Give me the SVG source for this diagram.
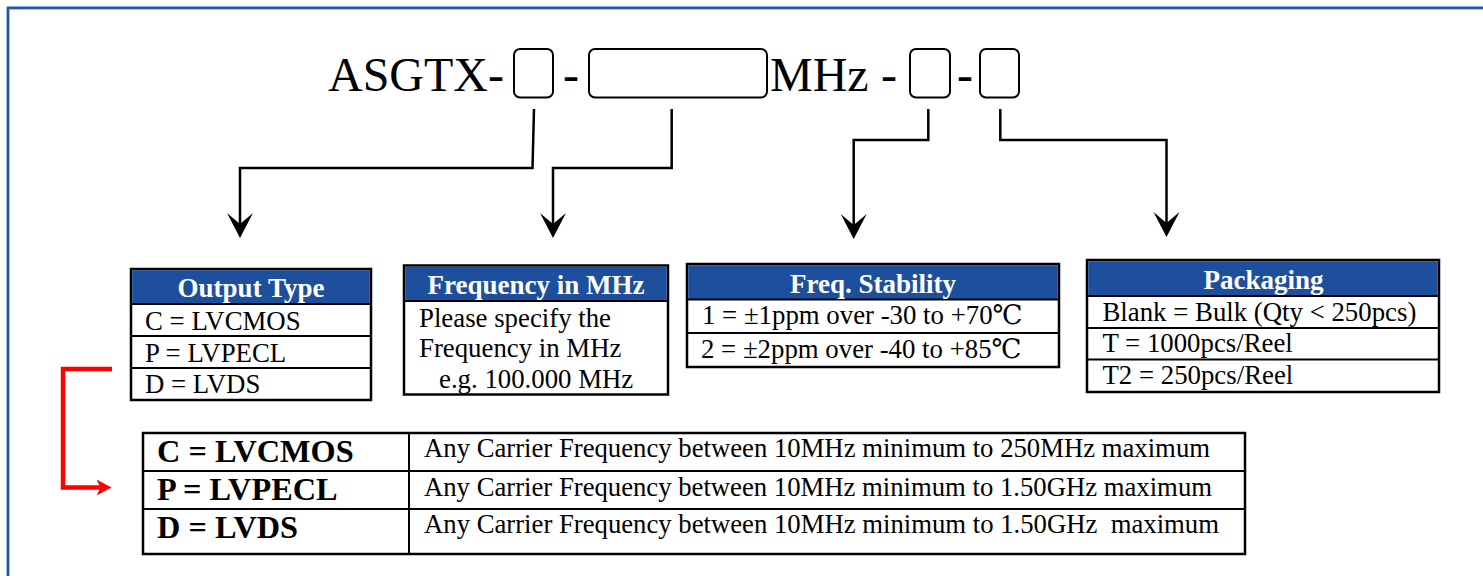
<svg xmlns="http://www.w3.org/2000/svg" width="1483" height="576" viewBox="0 0 1483 576">
<style>
.t{font-family:"Liberation Serif","DejaVu Serif","Noto Sans CJK SC",serif;fill:#000}
.title{font-size:48px}
.body{font-size:26.8px}
.hdr{font-size:27px;font-weight:bold;fill:#fff;text-anchor:middle}
.big{font-size:32.3px;font-weight:bold}
.box{fill:#fff;stroke:#000;stroke-width:2.5}
.hfill{fill:#1E4F9C}
.sep{stroke:#000;stroke-width:2}
.slot{fill:none;stroke:#000;stroke-width:2;}
.conn{fill:none;stroke:#000;stroke-width:2.5}
.red{fill:none;stroke:#FF0000;stroke-width:4.5}
</style>
<defs>
<linearGradient id="topfade" x1="0" y1="0" x2="1" y2="0">
<stop offset="0" stop-color="#6f9fd6"/>
<stop offset="1" stop-color="#e8eef6"/>
</linearGradient>
<marker id="ah" markerUnits="userSpaceOnUse" markerWidth="26" markerHeight="28" refX="11" refY="13" orient="auto" viewBox="0 0 26 26">
<path d="M25,13 L0,0 L11,13 L0,26 Z" fill="#000"/>
</marker>
<marker id="ahr" markerUnits="userSpaceOnUse" markerWidth="16" markerHeight="17" refX="4" refY="8" orient="auto" viewBox="0 0 16 16">
<path d="M15,8 L0,0 L4,8 L0,16 Z" fill="#FF0000"/>
</marker>
</defs>
<rect width="1483" height="576" fill="#fff"/>
<g id="frame">
<line x1="0" y1="0.5" x2="1483" y2="0.5" stroke="url(#topfade)" stroke-width="1"/>
<line x1="7" y1="7.8" x2="1483" y2="7.8" stroke="#1A5AAB" stroke-width="2.4"/>
<line x1="9" y1="9.5" x2="1483" y2="9.5" stroke="#9EC1E8" stroke-width="1"/>
<line x1="7.8" y1="7" x2="7.8" y2="576" stroke="#1A5AAB" stroke-width="2.4"/>
<line x1="9.5" y1="9" x2="9.5" y2="576" stroke="#9EC1E8" stroke-width="1"/>
</g>
<g id="part-number">
<text class="t title" x="328" y="91">ASGTX-</text>
<rect class="slot" x="514" y="49" width="39" height="48.5" rx="6"/>
<text class="t title" x="563" y="91">-</text>
<rect class="slot" x="589" y="49" width="178" height="48.5" rx="6"/>
<text class="t title" x="770" y="91">MHz</text>
<text class="t title" x="881" y="91">-</text>
<rect class="slot" x="910" y="49" width="40" height="48.5" rx="6"/>
<text class="t title" x="957" y="91">-</text>
<rect class="slot" x="980" y="49" width="39" height="48.5" rx="6"/>
</g>
<g id="connectors">
<polyline class="conn" points="534,109 532.5,168 240,168 240,224" marker-end="url(#ah)"/>
<polyline class="conn" points="671.7,109 671.7,168 553,168 553,224" marker-end="url(#ah)"/>
<polyline class="conn" points="928.3,109 928.3,140 853.7,140 853.7,225" marker-end="url(#ah)"/>
<polyline class="conn" points="1000.3,109 1000.3,140 1166.5,140 1166.5,223" marker-end="url(#ah)"/>
<polyline class="red" points="112,369 63,369 63,487.5 100.5,487.5" marker-end="url(#ahr)"/>
</g>
<g id="output-type">
<rect class="box" x="131" y="269" width="240" height="131"/>
<rect class="hfill" x="132.2" y="270.2" width="237.6" height="33"/>
<line class="sep" x1="131" y1="304" x2="371" y2="304"/>
<line class="sep" x1="131" y1="336" x2="371" y2="336"/>
<line class="sep" x1="131" y1="368" x2="371" y2="368"/>
<text class="t hdr" x="251" y="297">Output Type</text>
<text class="t body" x="145" y="330">C = LVCMOS</text>
<text class="t body" x="145" y="361.5">P = LVPECL</text>
<text class="t body" x="145" y="393">D = LVDS</text>
</g>
<g id="frequency">
<rect class="box" x="404" y="265.5" width="264" height="129"/>
<rect class="hfill" x="405.2" y="266.7" width="261.6" height="33.3"/>
<line class="sep" x1="404" y1="301" x2="668" y2="301"/>
<text class="t hdr" x="536" y="294">Frequency in MHz</text>
<text class="t body" x="419" y="327">Please specify the</text>
<text class="t body" x="419" y="357">Frequency in MHz</text>
<text class="t body" x="439" y="387.5">e.g. 100.000 MHz</text>
</g>
<g id="freq-stability">
<rect class="box" x="687" y="264" width="372" height="103"/>
<rect class="hfill" x="688.2" y="265.2" width="369.6" height="33.8"/>
<line class="sep" x1="687" y1="299.5" x2="1059" y2="299.5"/>
<line class="sep" x1="687" y1="333" x2="1059" y2="333"/>
<text class="t hdr" x="873" y="293">Freq. Stability</text>
<text class="t body" x="702" y="324">1 = ±1ppm over -30 to +70℃</text>
<text class="t body" x="701" y="358.3">2 = ±2ppm over -40 to +85℃</text>
</g>
<g id="packaging">
<rect class="box" x="1087" y="260" width="352" height="132"/>
<rect class="hfill" x="1088.2" y="261.2" width="349.6" height="34.3"/>
<line class="sep" x1="1087" y1="296" x2="1439" y2="296"/>
<line class="sep" x1="1087" y1="328" x2="1439" y2="328"/>
<line class="sep" x1="1087" y1="359.5" x2="1439" y2="359.5"/>
<text class="t hdr" x="1263.5" y="288.5">Packaging</text>
<text class="t body" x="1102.5" y="321">Blank = Bulk (Qty &lt; 250pcs)</text>
<text class="t body" x="1102.5" y="352.3">T = 1000pcs/Reel</text>
<text class="t body" x="1102.5" y="383.5">T2 = 250pcs/Reel</text>
</g>
<g id="output-details">
<rect class="box" x="143" y="433" width="1102" height="121"/>
<line class="sep" x1="409" y1="433" x2="409" y2="554"/>
<line class="sep" x1="143" y1="471" x2="1245" y2="471"/>
<line class="sep" x1="143" y1="509" x2="1245" y2="509"/>
<text class="t big" x="157" y="462">C = LVCMOS</text>
<text class="t big" x="157" y="500">P = LVPECL</text>
<text class="t big" x="157" y="538">D = LVDS</text>
<text class="t body" x="424" y="457" textLength="786" lengthAdjust="spacingAndGlyphs">Any Carrier Frequency between 10MHz minimum to 250MHz maximum</text>
<text class="t body" x="424" y="496" textLength="788" lengthAdjust="spacingAndGlyphs">Any Carrier Frequency between 10MHz minimum to 1.50GHz maximum</text>
<text class="t body" x="424" y="533" textLength="795" lengthAdjust="spacingAndGlyphs" style="white-space:pre">Any Carrier Frequency between 10MHz minimum to 1.50GHz  maximum</text>
</g>
</svg>
